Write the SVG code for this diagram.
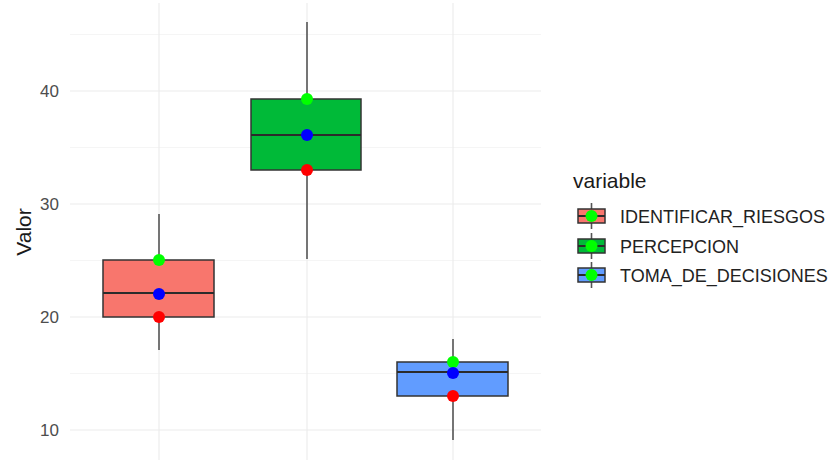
<svg xmlns="http://www.w3.org/2000/svg" width="835" height="460" viewBox="0 0 835 460">
<style>
.gmaj{stroke:#ebebeb;stroke-width:1.1;fill:none}
.gmin{stroke:#f2f2f2;stroke-width:0.8;fill:none}
.whisk{stroke:#555555;stroke-width:1.6}
.box{stroke:#333333;stroke-width:1.5}
.med{stroke:#2b2b2b;stroke-width:2}
.tick{font-family:"Liberation Sans",Arial,sans-serif;font-size:17px;fill:#4d4d4d;text-anchor:end}
.title{font-family:"Liberation Sans",Arial,sans-serif;font-size:21px;fill:#1a1a1a}
.lab{font-family:"Liberation Sans",Arial,sans-serif;font-size:18px;fill:#222222}
.pg{fill:#00ff00}.pb{fill:#0000ff}.pr{fill:#ff0000}
</style>
<rect width="835" height="460" fill="#ffffff"/>
<g id="grid">
<line class="gmin" x1="70" y1="34.5" x2="541" y2="34.5"/>
<line class="gmin" x1="70" y1="147.5" x2="541" y2="147.5"/>
<line class="gmin" x1="70" y1="260.5" x2="541" y2="260.5"/>
<line class="gmin" x1="70" y1="373.5" x2="541" y2="373.5"/>
<line class="gmaj" x1="70" y1="91" x2="541" y2="91"/>
<line class="gmaj" x1="70" y1="204" x2="541" y2="204"/>
<line class="gmaj" x1="70" y1="317" x2="541" y2="317"/>
<line class="gmaj" x1="70" y1="430" x2="541" y2="430"/>
<line class="gmaj" x1="159" y1="3" x2="159" y2="460"/>
<line class="gmaj" x1="307" y1="3" x2="307" y2="460"/>
<line class="gmaj" x1="453" y1="3" x2="453" y2="460"/>
</g>
<g id="axis">
<text class="tick" x="59" y="97">40</text>
<text class="tick" x="59" y="210">30</text>
<text class="tick" x="59" y="323">20</text>
<text class="tick" x="59" y="436">10</text>
<text class="title" transform="translate(31,232) rotate(-90)" text-anchor="middle">Valor</text>
</g>
<g id="box-identificar">
<line class="whisk" x1="159" y1="214" x2="159" y2="350"/>
<rect class="box" x="103" y="260" width="111" height="57" fill="#F8766D"/>
<line class="med" x1="103" y1="293" x2="214" y2="293"/>
<circle class="pg" cx="159" cy="260" r="6"/>
<circle class="pb" cx="159" cy="294" r="6"/>
<circle class="pr" cx="159" cy="317" r="6"/>
</g>
<g id="box-percepcion">
<line class="whisk" x1="307" y1="22" x2="307" y2="259"/>
<rect class="box" x="251" y="99" width="110" height="71" fill="#00BA38"/>
<line class="med" x1="251" y1="135" x2="361" y2="135"/>
<circle class="pg" cx="307" cy="99" r="6"/>
<circle class="pb" cx="307" cy="135" r="6"/>
<circle class="pr" cx="307" cy="170" r="6"/>
</g>
<g id="box-toma">
<line class="whisk" x1="453" y1="339" x2="453" y2="440"/>
<rect class="box" x="397" y="362" width="111" height="34" fill="#619CFF"/>
<line class="med" x1="397" y1="372" x2="508" y2="372"/>
<circle class="pg" cx="453" cy="362" r="6"/>
<circle class="pb" cx="453" cy="373" r="6"/>
<circle class="pr" cx="453" cy="396" r="6"/>
</g>
<g id="legend">
<text class="title" x="573" y="188">variable</text>
<g id="key-identificar">
<line class="whisk" x1="591.5" y1="203" x2="591.5" y2="229"/>
<rect class="box" x="578" y="209" width="27" height="14" fill="#F8766D"/>
<line class="med" x1="578" y1="216" x2="605" y2="216"/>
<circle class="pg" cx="591.5" cy="216" r="6"/>
<text class="lab" x="620" y="223">IDENTIFICAR_RIESGOS</text>
</g>
<g id="key-percepcion">
<line class="whisk" x1="591.5" y1="233" x2="591.5" y2="259"/>
<rect class="box" x="578" y="239" width="27" height="14" fill="#00BA38"/>
<line class="med" x1="578" y1="246" x2="605" y2="246"/>
<circle class="pg" cx="591.5" cy="246" r="6"/>
<text class="lab" x="620" y="253">PERCEPCION</text>
</g>
<g id="key-toma">
<line class="whisk" x1="591.5" y1="262" x2="591.5" y2="288"/>
<rect class="box" x="578" y="268" width="27" height="14" fill="#619CFF"/>
<line class="med" x1="578" y1="275" x2="605" y2="275"/>
<circle class="pg" cx="591.5" cy="275" r="6"/>
<text class="lab" x="620" y="282">TOMA_DE_DECISIONES</text>
</g>
</g>
</svg>
